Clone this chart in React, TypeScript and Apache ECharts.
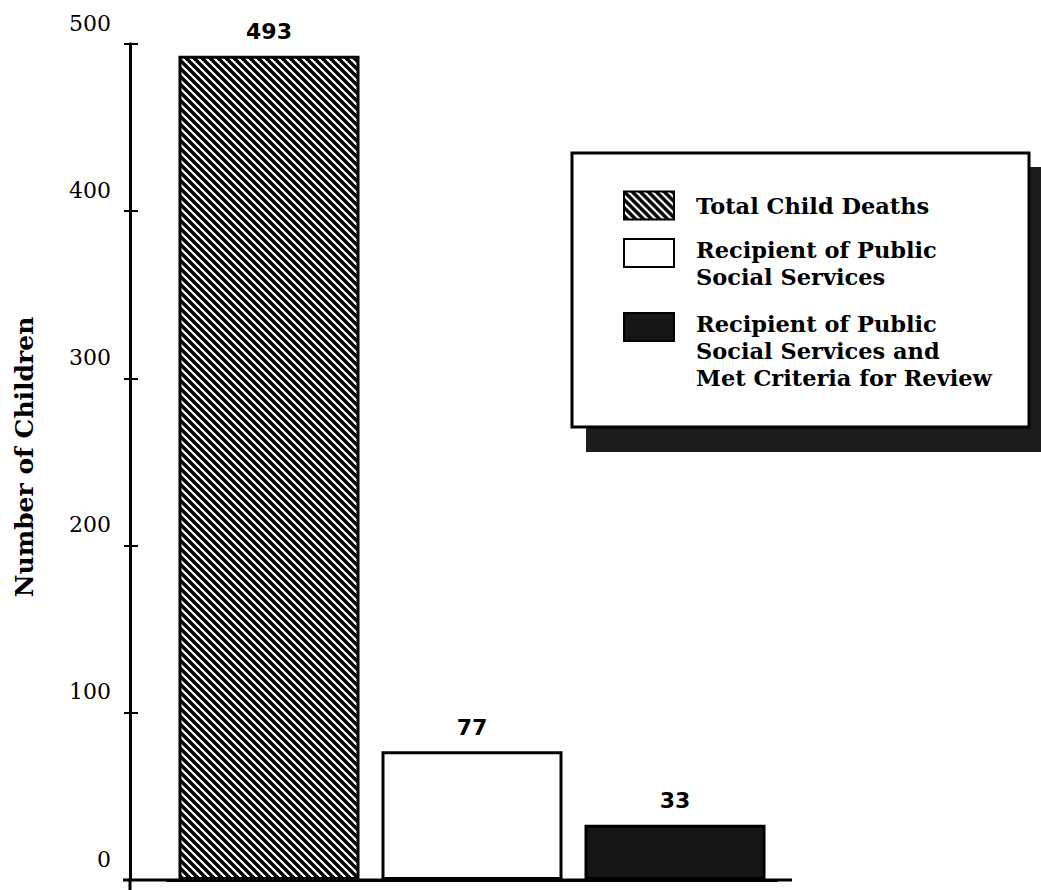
import React, { useEffect, useRef } from 'react';
import * as echarts from 'echarts';

const categories = [
  'Total Child Deaths',
  'Recipient of Public Social Services',
  'Recipient of Public Social Services and Met Criteria for Review',
];
const values = [493, 77, 33];
const legendLabels = [
  'Total Child Deaths',
  'Recipient of Public\nSocial Services',
  'Recipient of Public\nSocial Services and\nMet Criteria for Review',
];
const yTicks = [0, 100, 200, 300, 400, 500];
const axisTitle = 'Number of Children';

const legendTops = [190.5, 215.5, 262.5];
const legendLead = [0, 21, 48];

function makeHatch(): HTMLCanvasElement {
  const c = document.createElement('canvas');
  c.width = 8;
  c.height = 8;
  const ctx = c.getContext('2d')!;
  ctx.fillStyle = '#fff';
  ctx.fillRect(0, 0, 8, 8);
  ctx.strokeStyle = '#000';
  ctx.lineWidth = 3.4;
  ctx.beginPath();
  for (const k of [-8, 0, 8]) {
    ctx.moveTo(k - 1, -1);
    ctx.lineTo(k + 9, 9);
  }
  ctx.stroke();
  return c;
}

export default function App() {
  const ref = useRef<HTMLDivElement>(null);
  useEffect(() => {
    if (!ref.current) return;
    const chart = echarts.init(ref.current, undefined, { renderer: 'svg' });
    const fills: any[] = [
      { image: makeHatch(), repeat: 'repeat' },
      '#ffffff',
      '#161616',
    ];
    const yMin = yTicks[0];
    const yMax = yTicks[yTicks.length - 1];
    const yStep = yTicks[1] - yTicks[0];
    const legendText = {
      fontFamily: 'DejaVu Serif',
      fontWeight: 'bold',
      fontSize: 22.5,
      lineHeight: 27,
      color: '#000',
    };
    const option: any = {
      animation: false,
      backgroundColor: '#fff',
      grid: { left: 167.5, right: 264.5, top: 44, bottom: 10 },
      xAxis: {
        type: 'category',
        data: categories,
        axisLine: { show: true, lineStyle: { color: '#000', width: 3 } },
        axisTick: { show: false },
        axisLabel: { show: false },
        splitLine: { show: false },
      },
      yAxis: [
        {
          type: 'value',
          min: yMin,
          max: yMax,
          interval: yStep,
          position: 'left',
          offset: 37.5,
          axisLine: { show: true, lineStyle: { color: '#000', width: 3 } },
          axisTick: { show: true, inside: false, length: 6, lineStyle: { color: '#000', width: 2 } },
          axisLabel: {
            margin: 19,
            fontFamily: 'DejaVu Serif',
            fontSize: 22,
            color: '#000',
            verticalAlign: 'bottom',
            padding: [0, 0, 10, 0],
          },
          splitLine: { show: false },
          name: axisTitle,
          nameLocation: 'middle',
          nameRotate: 90,
          nameGap: 93,
          nameTextStyle: {
            fontFamily: 'DejaVu Serif',
            fontWeight: 'bold',
            fontSize: 25,
            color: '#000',
            padding: [0, 0, 0, 10],
          },
        },
        {
          type: 'value',
          min: yMin,
          max: yMax,
          interval: yStep,
          position: 'left',
          offset: 37.5,
          axisLine: { show: true, lineStyle: { color: '#000', width: 3 } },
          axisTick: { show: true, inside: true, length: 8, lineStyle: { color: '#000', width: 2 } },
          axisLabel: { show: false },
          splitLine: { show: false },
        },
      ],
      legend: legendLabels.map((lbl, i) => ({
        data: [{ name: categories[i], icon: 'rect' }],
        formatter: () =>
          (legendLead[i] > 0 ? '{e| }\n' : '') +
          lbl
            .split('\n')
            .map((s) => `{t|${s}}`)
            .join('\n'),
        orient: 'vertical',
        left: 623,
        top: legendTops[i],
        padding: 0,
        itemWidth: 50,
        itemHeight: 28,
        selectedMode: false,
        textStyle: {
          ...legendText,
          padding: [0, 0, 0, 17],
          rich: {
            e: { fontSize: 2, lineHeight: legendLead[i] || 1 },
            t: { ...legendText },
          },
        },
      })),
      graphic: [
        { type: 'rect', z: 0, shape: { x: 586, y: 167, width: 460, height: 285 }, style: { fill: '#1c1c1c' } },
        { type: 'rect', z: 1, shape: { x: 572, y: 153, width: 457, height: 274 }, style: { fill: '#fff', stroke: '#000', lineWidth: 3 } },
        { type: 'line', z: 1, shape: { x1: 123, y1: 880, x2: 792, y2: 880 }, style: { stroke: '#000', lineWidth: 3 } },
        { type: 'line', z: 1, shape: { x1: 130, y1: 878, x2: 130, y2: 890 }, style: { stroke: '#000', lineWidth: 3 } },
      ],
      series: categories.map((name, i) => ({
        type: 'bar',
        name,
        stack: 'all',
        yAxisIndex: 0,
        barWidth: 181,
        data: categories.map((_, j) => (j === i ? values[i] : '-')),
        itemStyle: { color: fills[i], borderColor: '#000', borderWidth: 3 },
        label: {
          show: true,
          position: 'top',
          distance: 13,
          fontFamily: 'DejaVu Sans',
          fontWeight: 'bold',
          fontSize: 22,
          color: '#000',
        },
      })),
    };
    chart.setOption(option);
    return () => chart.dispose();
  }, []);
  return (
    <div
      ref={ref}
      style={{ position: 'fixed', left: 0, top: 0, width: 1041, height: 890, background: '#fff' }}
    />
  );
}
